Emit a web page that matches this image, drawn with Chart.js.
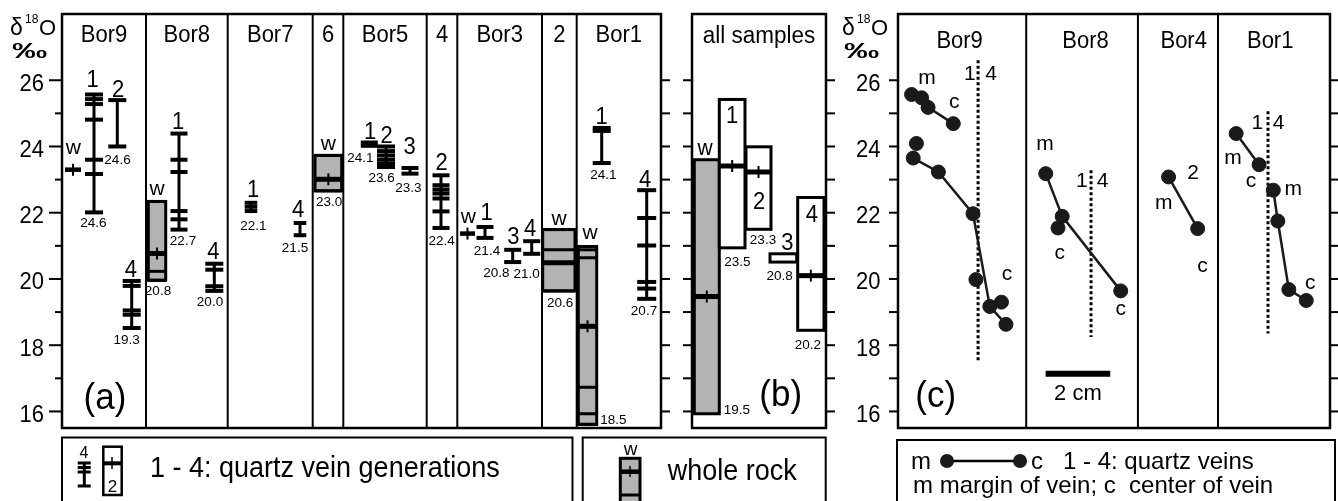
<!DOCTYPE html>
<html><head><meta charset="utf-8">
<script src="https://cdn.jsdelivr.net/npm/chart.js@4.4.1/dist/chart.umd.min.js"></script>
<style>
html,body{margin:0;padding:0;background:#fff;overflow:hidden}
#wrap{position:relative;width:1338px;height:501px;background:#fff}
#wrap canvas{position:absolute;left:0;top:0}
</style></head><body>
<div id="wrap">
<canvas id="chartA" width="1338" height="501"></canvas>
<canvas id="chartB" width="1338" height="501"></canvas>
<canvas id="chartC" width="1338" height="501"></canvas>
</div>
<script>
// ======================= DATA =======================
const yAxisTicks = [16, 17, 18, 19, 20, 21, 22, 23, 24, 25, 26];
const yAxisLabels = ['16', '18', '20', '22', '24', '26'];

// (a) sections
const sectionsA = ['Bor9', 'Bor8', 'Bor7', '6', 'Bor5', '4', 'Bor3', '2', 'Bor1'];

// (a) quartz veins: section, generation, δ18O of samples, printed mean
const veinSection = ['Bor9','Bor9','Bor9','Bor8','Bor8','Bor7','Bor7','Bor5','Bor5','Bor5','4','Bor3','Bor3','Bor3','Bor1','Bor1'];
const veinGen = ['1','2','4','1','4','1','4','1','2','3','2','1','3','4','1','4'];
const veinValues = [
  [25.57, 25.43, 25.28, 24.81, 23.6, 23.17, 22.01],
  [25.4, 24.0],
  [19.94, 19.79, 19.05, 18.92, 18.52],
  [24.39, 23.6, 23.23, 22.05, 21.8, 21.49],
  [20.46, 20.28, 19.78, 19.64],
  [22.3, 22.18, 22.05],
  [21.69, 21.32],
  [24.12, 24.02],
  [24.0, 23.86, 23.73, 23.6, 23.48, 23.38],
  [23.35, 23.18],
  [23.13, 22.83, 22.7, 22.58, 22.43, 22.04, 21.54],
  [21.57, 21.24],
  [20.88, 20.51],
  [21.14, 20.76],
  [24.56, 24.47, 23.5],
  [22.68, 21.84, 21.01, 19.91, 19.71, 19.4]
];
const veinMeanLabel = ['24.6','24.6','19.3','22.7','20.0','22.1','21.5','24.1','23.6','23.3','22.4','21.4','20.8','21.0','24.1','20.7'];

// (a) whole rock
const rockSection = ['Bor9', 'Bor8', '6', 'Bor3', '2', 'Bor1'];
const rockValues = [[23.3], [22.34, 20.23, 19.96], [23.73, 22.66], [21.37], [21.49, 20.88, 19.64], [20.98, 20.88, 20.64, 16.73, 15.93, 15.61]];
const rockMeanValue = [23.3, 20.77, 23.01, 21.37, 20.49, 18.57];
const rockMeanLabel = ['', '20.8', '23.0', '', '20.6', '18.5'];

// (b) all samples
const allGroups = ['w', '1', '2', '3', '4'];
const allMin = [15.93, 20.94, 21.5, 20.51, 18.45];
const allMax = [23.6, 25.42, 23.99, 20.76, 22.46];
const allMeanValue = [19.47, 23.41, 23.23, null, 20.1];
const allMeanLabel = ['19.5', '23.5', '23.3', '20.8', '20.2'];

// (c) profiles across veins: distance (cm) and δ18O
const profileSections = ['Bor9', 'Bor8', 'Bor4', 'Bor1'];
const bor9v1Dist = [0.42, 0.73, 0.93, 1.71];
const bor9v1O    = [25.57, 25.47, 25.18, 24.69];
const bor9v2Dist = [0.47, 1.25, 2.32, 2.84, 3.34];
const bor9v2O    = [23.65, 23.23, 21.97, 19.17, 18.63];
const bor9ExtraDist = [0.57, 2.41, 3.2];
const bor9ExtraO    = [24.09, 19.98, 19.3];
const bor8Dist = [4.57, 5.08, 6.89];
const bor8O    = [23.18, 21.89, 19.64];
const bor8ExtraDist = [4.95];
const bor8ExtraO    = [21.54];
const bor4Dist = [8.37, 9.27];
const bor4O    = [23.08, 21.52];
const bor1v1Dist = [10.46, 11.17];
const bor1v1O    = [24.39, 23.45];
const bor1v4Dist = [11.61, 11.75, 12.09, 12.63];
const bor1v4O    = [22.68, 21.75, 19.68, 19.35];

// ======================= LAYOUT / STYLE =======================
const Y_MIN = 15.5, Y_MAX = 28.0;
const GRAY = '#b3b3b3';
const FONT = '"Liberation Sans", Arial, Helvetica, sans-serif';
const LA = {
  pad: {left: 62, right: 677, top: 14, bottom: 73}, xMax: 59.9,
  edges: [8.4, 16.57, 25.07, 28.13, 36.47, 39.53, 48.0, 51.47],
  veinX: [3.2, 5.53, 6.97, 11.7, 15.23, 18.9, 23.8, 30.73, 32.4, 34.8, 37.9, 42.3, 45.07, 46.97, 53.97, 58.47],
  tickHalf: [9, 9, 9, 8.5, 9, 6.3, 6.3, 8.5, 9, 8.5, 8.5, 8.5, 8.5, 8.5, 9, 9.5],
  genOff: [[-1.5,7],[0.7,3.2],[-0.9,3.9],[-1,5],[-1,5],[2,5.8],[-2,6],[0.7,4],[0.7,3],[-0.3,14.4],[0.7,5],[1.7,6.6],[0.6,6.2],[-1.7,5.7],[0,3.7],[-1.7,3.2]],
  meanOff: [[-0.7,14.6],[0.2,17.1],[-5,15.7],[4,15.7],[-4.3,15.5],[2.3,19],[-5,16.8],[-9,16.2],[-4.3,15],[-1.7,18.4],[0.7,17.4],[2,17.4],[-16.4,15],[-5,24],[1.6,15.5],[-2.7,16.5]],
  rockX: [[0.3,1.9],[8.63,10.37],[25.3,27.97],[39.8,41.3],[48.07,51.3],[51.63,53.47]],
  rockBox: [false, true, true, false, true, true],
  rockCross: [true, true, true, true, false, true],
  rockWOff: [[0.3,15.4],[0,6],[0,5],[0.8,10.6],[0.2,4.3],[2.5,8]],
  rockMeanOff: [[0,0],[1,15],[0.7,15.4],[0,0],[1.2,16.2],[25.8,-0.7]]
};
const LB = {
  pad: {left: 692, right: 512, top: 14, bottom: 73}, xMax: 13.4,
  boxX: [[0.23,2.73],[2.73,5.3],[5.4,7.9],[7.8,10.47],[10.57,13.2]],
  groupOff: [[-1.8,-4.4],[0,24],[0.5,62],[4,-4],[1,24.5]],
  meanOff: [[30,0],[5.3,17.7],[4.5,14.3],[-3.7,18.3],[-2.9,18.4]]
};
const LC = {
  pad: {left: 898, right: 3, top: 14, bottom: 73}, xMax: 13.364,
  edges: [3.966, 7.422, 9.899],
  titleX: [1.906, 5.801, 8.838, 11.514],
  boundaries: [[2.477, 26.6, 17.5], [5.972, 23.28, 18.25], [11.446, 25.06, 18.35]],
  notes: [['m',0.9,25.9],['c',1.74,25.15],['1',2.22,26.0],['4',2.88,26.0],['c',3.37,19.96],
          ['m',4.55,23.88],['1',5.69,22.78],['4',6.33,22.78],['c',5.0,20.61],['c',6.89,18.9],
          ['2',9.13,23.03],['m',8.22,22.12],['c',9.42,20.21],
          ['1',11.12,24.54],['4',11.77,24.54],['m',10.36,23.48],['c',10.92,22.78],['m',12.23,22.53],['c',12.75,19.71]],
  scaleBar: [4.566, 6.566, 17.14]
};

// ======================= HELPERS =======================
function T(ctx, s, x, y, size, align, o) {
  o = o || {};
  ctx.save();
  ctx.font = (o.bold ? 'bold ' : '') + size + 'px ' + FONT;
  ctx.fillStyle = '#000'; ctx.textAlign = align || 'center'; ctx.textBaseline = 'alphabetic';
  ctx.translate(x, y); ctx.scale(o.sx || 1, o.sy || 1);
  ctx.fillText(s, 0, 0);
  ctx.restore();
}
function Ln(ctx, x1, y1, x2, y2, w, dash) {
  ctx.save(); ctx.lineWidth = w; ctx.strokeStyle = '#000'; ctx.lineCap = 'butt';
  if (dash) ctx.setLineDash(dash);
  ctx.beginPath(); ctx.moveTo(x1, y1); ctx.lineTo(x2, y2); ctx.stroke(); ctx.restore();
}
function Rect(ctx, x, y, w, h, lw, fill) {
  ctx.save();
  if (fill) { ctx.fillStyle = fill; ctx.fillRect(x, y, w, h); }
  ctx.lineWidth = lw; ctx.strokeStyle = '#000'; ctx.strokeRect(x, y, w, h);
  ctx.restore();
}
function deltaLabel(ctx, x, y) {
  T(ctx, 'δ', x, y, 23, 'left');
  T(ctx, '18', x + 15, y - 12, 12, 'left');
  T(ctx, 'O', x + 29, y, 22, 'left');
  T(ctx, '‰', x + 2, y + 23, 22, 'left', {bold: true, sx: 1.6});
}
function frame(ctx, area) {
  Rect(ctx, area.left, area.top, area.right - area.left, area.bottom - area.top, 2.5);
}
function baseOptions(pad, xMax) {
  return {
    responsive: false, animation: false, devicePixelRatio: 1, events: [],
    layout: {padding: pad},
    plugins: {legend: {display: false}, tooltip: {enabled: false}},
    scales: {
      x: {type: 'linear', min: 0, max: xMax, display: false},
      y: {type: 'linear', min: Y_MIN, max: Y_MAX, display: false}
    }
  };
}

// ======================= PANEL (a) =======================
const dsA = [];
veinValues.forEach((vals, i) => {
  const x = LA.veinX[i];
  dsA.push({data: [{x, y: Math.max(...vals)}, {x, y: Math.min(...vals)}], showLine: true,
            borderColor: '#000', borderWidth: 3, pointRadius: 0});
  dsA.push({data: vals.map(v => ({x, y: v})), showLine: false, pointStyle: 'line',
            pointRadius: LA.tickHalf[i], pointBorderWidth: 4, pointBorderColor: '#000', pointBackgroundColor: '#000'});
});

const pluginA = {
  id: 'panelA',
  beforeDatasetsDraw(chart) {
    const ctx = chart.ctx, xs = chart.scales.x, ys = chart.scales.y;
    rockSection.forEach((s, i) => {
      const L = xs.getPixelForValue(LA.rockX[i][0]), R = xs.getPixelForValue(LA.rockX[i][1]), C = (L + R) / 2;
      const vals = rockValues[i];
      const my = ys.getPixelForValue(rockMeanValue[i]);
      if (LA.rockBox[i]) {
        const t = ys.getPixelForValue(Math.max(...vals)), b = ys.getPixelForValue(Math.min(...vals));
        Rect(ctx, L, t, R - L, b - t, 3, GRAY);
        vals.forEach(v => { const y = ys.getPixelForValue(v); Ln(ctx, L, y, R, y, 3); });
        Ln(ctx, L, my, R, my, 5);
      } else {
        Ln(ctx, L, my, R, my, 4.5);
      }
      if (LA.rockCross[i]) Ln(ctx, C, my - 6, C, my + 6, 2);
    });
  },
  afterDraw(chart) {
    const ctx = chart.ctx, xs = chart.scales.x, ys = chart.scales.y, a = chart.chartArea;
    frame(ctx, a);
    const edgesPx = [a.left].concat(LA.edges.map(e => xs.getPixelForValue(e))).concat([a.right]);
    LA.edges.forEach(e => { const x = xs.getPixelForValue(e); Ln(ctx, x, a.top, x, a.bottom, 2); });
    sectionsA.forEach((s, i) => T(ctx, s, (edgesPx[i] + edgesPx[i + 1]) / 2, 42, 22, 'center', {sy: 1.05}));
    // axes
    yAxisTicks.forEach(v => {
      const y = ys.getPixelForValue(v);
      const major = yAxisLabels.indexOf(String(v)) >= 0;
      Ln(ctx, major ? a.left - 13 : a.left - 7, y, a.left, y, 2);
      if (major) T(ctx, String(v), a.left - 18, y + 10.5, 22, 'right', {sy: 1.05});
      Ln(ctx, a.right, y, a.right + 9, y, 2);
    });
    deltaLabel(ctx, 10, 35);
    // vein labels
    veinValues.forEach((vals, i) => {
      const x = xs.getPixelForValue(LA.veinX[i]);
      const top = ys.getPixelForValue(Math.max(...vals)), bot = ys.getPixelForValue(Math.min(...vals));
      T(ctx, veinGen[i], x + LA.genOff[i][0], top - LA.genOff[i][1], 22, 'center', {sy: 1.05});
      T(ctx, veinMeanLabel[i], x + LA.meanOff[i][0], bot + LA.meanOff[i][1], 13.5);
    });
    // rock labels
    rockSection.forEach((s, i) => {
      const C = (xs.getPixelForValue(LA.rockX[i][0]) + xs.getPixelForValue(LA.rockX[i][1])) / 2;
      const t = ys.getPixelForValue(Math.max(...rockValues[i])), b = ys.getPixelForValue(Math.min(...rockValues[i]));
      T(ctx, 'w', C + LA.rockWOff[i][0], t - LA.rockWOff[i][1], 21);
      if (rockMeanLabel[i]) T(ctx, rockMeanLabel[i], C + LA.rockMeanOff[i][0], b + LA.rockMeanOff[i][1], 13.5);
    });
    T(ctx, '(a)', 105, 409, 35, 'center', {sy: 1.05});
    // legend 1
    Rect(ctx, 62, 437.5, 510.5, 70, 2);
    T(ctx, '4', 84, 458, 16);
    Ln(ctx, 84.3, 463, 84.3, 486, 3);
    [463, 467.5, 472, 486].forEach(y => Ln(ctx, 77.7, y, 90.7, y, 3));
    Rect(ctx, 103.3, 446.7, 18.4, 48.3, 2.5, '#fff');
    Ln(ctx, 103.3, 463.3, 121.7, 463.3, 4);
    Ln(ctx, 112, 457, 112, 469, 1.5);
    T(ctx, '2', 112.5, 492, 17);
    T(ctx, '1 - 4: quartz vein generations', 150, 477, 27, 'left', {sy: 1.08});
    // legend 2
    Rect(ctx, 582.7, 437.5, 243, 70, 2);
    T(ctx, 'w', 630.5, 455, 19);
    Rect(ctx, 620.3, 458.3, 19.7, 45, 3, GRAY);
    Ln(ctx, 620.3, 471.7, 640, 471.7, 4.5);
    Ln(ctx, 630, 466, 630, 477, 1.5);
    Ln(ctx, 620.3, 495, 640, 495, 3);
    T(ctx, 'whole rock', 667.7, 480, 27, 'left', {sy: 1.12});
  }
};
new Chart(document.getElementById('chartA'), {
  type: 'scatter', data: {datasets: dsA}, options: baseOptions(LA.pad, LA.xMax), plugins: [pluginA]
});

// ======================= PANEL (b) =======================
const pluginB = {
  id: 'panelB',
  beforeDatasetsDraw(chart) {
    const ctx = chart.ctx, xs = chart.scales.x, ys = chart.scales.y;
    allGroups.forEach((g, i) => {
      const L = xs.getPixelForValue(LB.boxX[i][0]), R = xs.getPixelForValue(LB.boxX[i][1]), C = (L + R) / 2;
      const t = ys.getPixelForValue(allMax[i]), b = ys.getPixelForValue(allMin[i]);
      Rect(ctx, L, t, R - L, b - t, 3, g === 'w' ? GRAY : '#fff');
      if (allMeanValue[i] !== null) {
        const my = ys.getPixelForValue(allMeanValue[i]);
        Ln(ctx, L, my, R, my, 5);
        Ln(ctx, C, my - 6, C, my + 6, 2);
      }
    });
  },
  afterDraw(chart) {
    const ctx = chart.ctx, xs = chart.scales.x, ys = chart.scales.y, a = chart.chartArea;
    frame(ctx, a);
    T(ctx, 'all samples', (a.left + a.right) / 2, 43, 22.5, 'center', {sy: 1.05});
    yAxisTicks.forEach(v => {
      const y = ys.getPixelForValue(v);
      Ln(ctx, a.left - 9, y, a.left, y, 2);
      Ln(ctx, a.right, y, a.right + 9, y, 2);
    });
    allGroups.forEach((g, i) => {
      const L = xs.getPixelForValue(LB.boxX[i][0]), R = xs.getPixelForValue(LB.boxX[i][1]), C = (L + R) / 2;
      const t = ys.getPixelForValue(allMax[i]), b = ys.getPixelForValue(allMin[i]);
      T(ctx, g, C + LB.groupOff[i][0], t + LB.groupOff[i][1], g === 'w' ? 21 : 22, 'center', {sy: 1.05});
      T(ctx, allMeanLabel[i], C + LB.meanOff[i][0], b + LB.meanOff[i][1], 13.5);
    });
    T(ctx, '(b)', 780.7, 406, 35, 'center', {sy: 1.05});
  }
};
new Chart(document.getElementById('chartB'), {
  type: 'scatter', data: {datasets: []}, options: baseOptions(LB.pad, LB.xMax), plugins: [pluginB]
});

// ======================= PANEL (c) =======================
const pts = (xs, ys) => xs.map((x, i) => ({x, y: ys[i]}));
const profileStyle = {showLine: true, borderColor: '#1a1a1a', borderWidth: 2.5, pointRadius: 7,
  pointBackgroundColor: '#1a1a1a', pointBorderColor: '#1a1a1a', pointBorderWidth: 1, order: 1};
const singleStyle = Object.assign({}, profileStyle, {showLine: false});
const dsC = [
  Object.assign({data: pts(bor9v1Dist, bor9v1O)}, profileStyle),
  Object.assign({data: pts(bor9v2Dist, bor9v2O)}, profileStyle),
  Object.assign({data: pts(bor9ExtraDist, bor9ExtraO)}, singleStyle),
  Object.assign({data: pts(bor8Dist, bor8O)}, profileStyle),
  Object.assign({data: pts(bor8ExtraDist, bor8ExtraO)}, singleStyle),
  Object.assign({data: pts(bor4Dist, bor4O)}, profileStyle),
  Object.assign({data: pts(bor1v1Dist, bor1v1O)}, profileStyle),
  Object.assign({data: pts(bor1v4Dist, bor1v4O)}, profileStyle)
];
LC.boundaries.forEach(([x, y1, y2]) => dsC.push({
  data: [{x, y: y1}, {x, y: y2}], showLine: true, borderColor: '#000', borderWidth: 3,
  borderDash: [3, 2.5], pointRadius: 0, order: 2
}));

const pluginC = {
  id: 'panelC',
  afterDraw(chart) {
    const ctx = chart.ctx, xs = chart.scales.x, ys = chart.scales.y, a = chart.chartArea;
    frame(ctx, a);
    LC.edges.forEach(e => { const x = xs.getPixelForValue(e); Ln(ctx, x, a.top, x, a.bottom, 2); });
    profileSections.forEach((s, i) => T(ctx, s, xs.getPixelForValue(LC.titleX[i]), 48, 22, 'center', {sy: 1.05}));
    yAxisTicks.forEach(v => {
      const y = ys.getPixelForValue(v);
      Ln(ctx, a.left - 9, y, a.left, y, 2);
      Ln(ctx, a.right, y, a.right + 9, y, 2);
      if (yAxisLabels.indexOf(String(v)) >= 0) T(ctx, String(v), a.left - 17.5, y + 10.5, 22, 'right', {sy: 1.05});
    });
    deltaLabel(ctx, 842, 35);
    LC.notes.forEach(([s, x, y]) => T(ctx, s, xs.getPixelForValue(x), ys.getPixelForValue(y), 21));
    const [s0, s1, sy] = LC.scaleBar;
    Ln(ctx, xs.getPixelForValue(s0), ys.getPixelForValue(sy), xs.getPixelForValue(s1), ys.getPixelForValue(sy), 6);
    T(ctx, '2 cm', xs.getPixelForValue((s0 + s1) / 2), 400, 22);
    T(ctx, '(c)', 935.7, 407, 35, 'center', {sy: 1.05});
    // legend 3
    Rect(ctx, 897, 440, 438, 70, 2);
    T(ctx, 'm', 911, 469, 24, 'left');
    Ln(ctx, 947, 461, 1020, 461, 2.5);
    ctx.save(); ctx.fillStyle = '#1a1a1a';
    [947, 1020].forEach(x => { ctx.beginPath(); ctx.arc(x, 461, 7, 0, Math.PI * 2); ctx.fill(); });
    ctx.restore();
    T(ctx, 'c', 1031, 469, 24, 'left');
    T(ctx, '1 - 4: quartz veins', 1063, 469, 24, 'left');
    T(ctx, 'm margin of vein; c  center of vein', 913, 493, 24, 'left');
  }
};
new Chart(document.getElementById('chartC'), {
  type: 'scatter', data: {datasets: dsC}, options: baseOptions(LC.pad, LC.xMax), plugins: [pluginC]
});
</script>
</body></html>
